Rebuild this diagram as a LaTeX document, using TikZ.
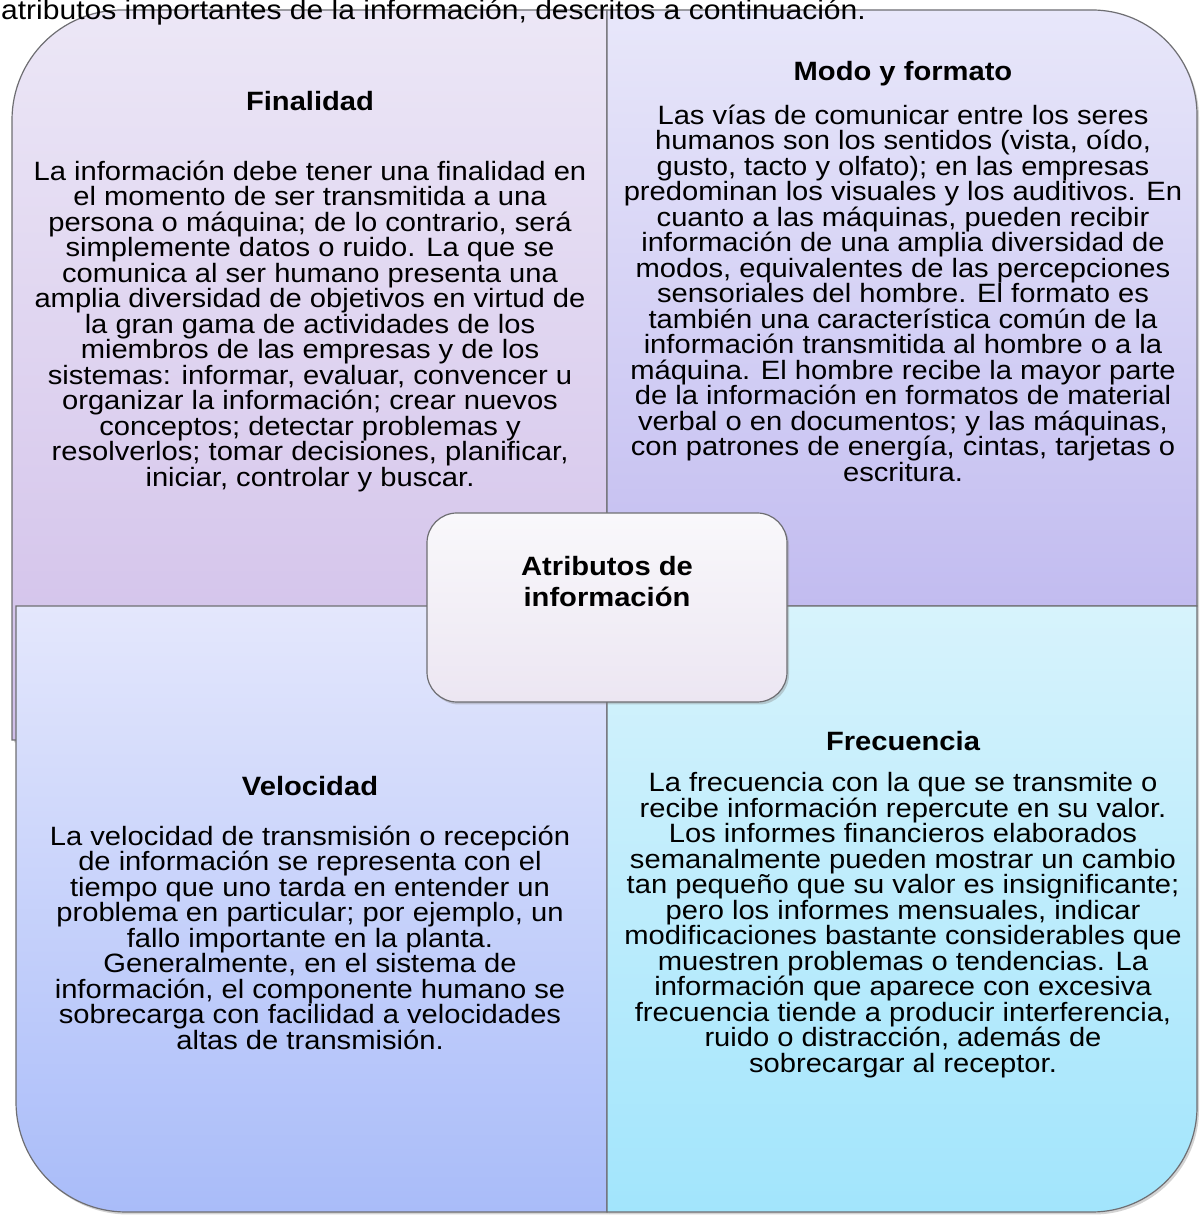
\documentclass[tikz,border=0pt]{standalone}
\usepackage{fontspec}
\setmainfont{Liberation Sans}[FakeStretch=1.1]
\usetikzlibrary{shadows}

\definecolor{edgegray}{HTML}{6E6E72}
\definecolor{tlTop}{HTML}{ECE7F6}
\definecolor{tlBot}{HTML}{D0BEE9}
\definecolor{trTop}{HTML}{E8E7FA}
\definecolor{trBot}{HTML}{C2BCF0}
\definecolor{blTop}{HTML}{E4E7FC}
\definecolor{blBot}{HTML}{A9BCF9}
\definecolor{brTop}{HTML}{D7F3FC}
\definecolor{brBot}{HTML}{A2E5FC}
\definecolor{coreTop}{HTML}{F9F8FB}
\definecolor{coreBot}{HTML}{ECE6F2}

\newcommand{\tightlines}{\lineskiplimit-50pt\relax}

\begin{document}
\begin{tikzpicture}[
  x=1pt,
  y=1pt,
  quad/.style={draw=edgegray,line width=1.2pt,
    drop shadow={shadow xshift=2pt,shadow yshift=-2.5pt,opacity=0.35}},
  corebox/.style={quad,rounded corners=30pt,minimum width=360pt,minimum height=189pt,
    top color=coreTop,bottom color=coreBot},
  headtext/.style={font=\fontsize{26.5}{31}\selectfont\tightlines\bfseries,
    align=center,inner sep=0pt},
  bodytext/.style={font=\fontsize{26.5}{25.5}\selectfont\tightlines,
    align=center,inner sep=0pt}
]
\useasboundingbox (0,0) rectangle (1199,1217);

% Four quadrants
\draw[quad,top color=tlTop,bottom color=tlBot]
  (12,477) -- (12,1097) arc[start angle=180,end angle=90,radius=110pt]
  -- (607,1207) -- (607,477) -- cycle;
\draw[quad,top color=trTop,bottom color=trBot]
  (607,611) -- (607,1207) -- (1092,1207)
  arc[start angle=90,end angle=0,radius=105pt] -- (1197,611) -- cycle;
\draw[quad,top color=blTop,bottom color=blBot]
  (16,611) -- (607,611) -- (607,5) -- (126,5)
  arc[start angle=270,end angle=180,radius=110pt] -- cycle;
\draw[quad,top color=brTop,bottom color=brBot]
  (607,611) -- (1197,611) -- (1197,110)
  arc[start angle=0,end angle=-90,radius=105pt] -- (607,5) -- cycle;

% Finalidad
\node[headtext] (finHead) at (310,1116) {Finalidad};
\node[bodytext] (finBody) at (310,890.5)
  {La información debe tener una finalidad en\\
   el momento de ser transmitida a una\\
   persona o máquina; de lo contrario, será\\
   simplemente datos o ruido. La que se\\
   comunica al ser humano presenta una\\
   amplia diversidad de objetivos en virtud de\\
   la gran gama de actividades de los\\
   miembros de las empresas y de los\\
   sistemas: informar, evaluar, convencer u\\
   organizar la información; crear nuevos\\
   conceptos; detectar problemas y\\
   resolverlos; tomar decisiones, planificar,\\
   iniciar, controlar y buscar.};

% Modo y formato
\node[headtext] (modoHead) at (903,1143) {Modo y formato};
\node[bodytext] (modoBody) at (903,924)
  {Las vías de comunicar entre los seres\\
   humanos son los sentidos (vista, oído,\\
   gusto, tacto y olfato); en las empresas\\
   predominan los visuales y los auditivos. En\\
   cuanto a las máquinas, pueden recibir\\
   información de una amplia diversidad de\\
   modos, equivalentes de las percepciones\\
   sensoriales del hombre. El formato es\\
   también una característica común de la\\
   información transmitida al hombre o a la\\
   máquina. El hombre recibe la mayor parte\\
   de la información en formatos de material\\
   verbal o en documentos; y las máquinas,\\
   con patrones de energía, cintas, tarjetas o\\
   escritura.};

% Velocidad
\node[headtext] (velHead) at (310,431) {Velocidad};
\node[bodytext] (velBody) at (310,279.5)
  {La velocidad de transmisión o recepción\\
   de información se representa con el\\
   tiempo que uno tarda en entender un\\
   problema en particular; por ejemplo, un\\
   fallo importante en la planta.\\
   Generalmente, en el sistema de\\
   información, el componente humano se\\
   sobrecarga con facilidad a velocidades\\
   altas de transmisión.};

% Frecuencia
\node[headtext] (freHead) at (903,476) {Frecuencia};
\node[bodytext] (freBody) at (903,292)
  {La frecuencia con la que se transmite o\\
   recibe información repercute en su valor.\\
   Los informes financieros elaborados\\
   semanalmente pueden mostrar un cambio\\
   tan pequeño que su valor es insignificante;\\
   pero los informes mensuales, indicar\\
   modificaciones bastante considerables que\\
   muestren problemas o tendencias. La\\
   información que aparece con excesiva\\
   frecuencia tiende a producir interferencia,\\
   ruido o distracción, además de\\
   sobrecargar al receptor.};

% Central box
\node[corebox] (core) at (607,609.5) {};
\node[headtext] (coreTitle) at (607,635.5) {Atributos de\\información};

% Cut-off sentence at the top
\node[anchor=base west,inner sep=0pt,font=\fontsize{27.3}{31}\selectfont]
  (intro) at (1,1197) {atributos importantes de la información, descritos a continuación.};

\end{tikzpicture}
\end{document}
